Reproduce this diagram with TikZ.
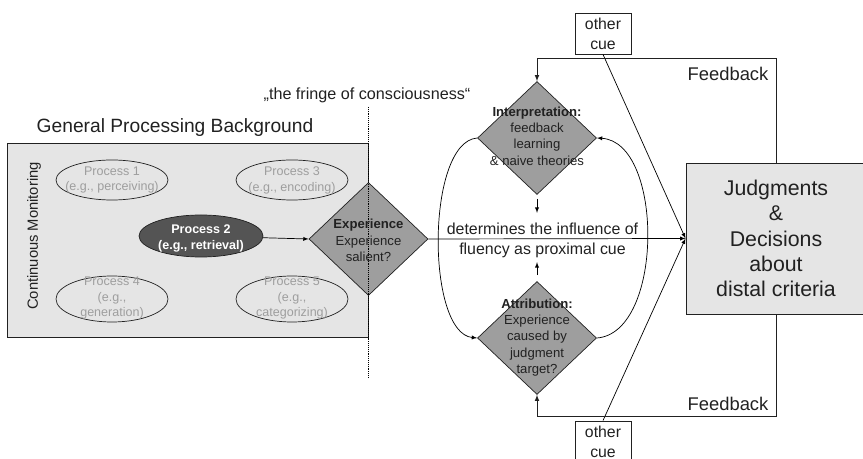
\documentclass[tikz,border=0pt]{standalone}
\usepackage{fontspec}
\setmainfont{Liberation Sans}
\usetikzlibrary{shapes.geometric}

\definecolor{ink}{gray}{0.13}
\definecolor{bggray}{gray}{0.9}
\definecolor{diagray}{gray}{0.62}
\definecolor{procdark}{gray}{0.33}
\definecolor{proctext}{gray}{0.62}

\begin{document}
\begin{tikzpicture}[
  x=0.03cm, y=-0.03cm,
  every node/.style={text=ink},
  proc/.style={ellipse, draw=ink, line width=0.6pt, inner sep=0pt, minimum width=3.36cm},
  proctxt/.style={align=center, inner sep=0pt, text=proctext, font=\fontsize{10.7}{13.6}\selectfont},
  decision/.style={diamond, draw=ink, fill=diagray, line width=0.6pt, inner sep=0pt,
    minimum width=3.57cm, minimum height=3.39cm},
  dectxt/.style={align=center, inner sep=0pt, font=\fontsize{11.2}{13.9}\selectfont},
  cuebox/.style={draw=ink, line width=0.7pt, minimum width=1.68cm, minimum height=1.23cm,
    align=center, inner sep=0pt, font=\fontsize{13.5}{17}\selectfont},
  fb/.style={inner sep=0pt, font=\fontsize{15.7}{18}\selectfont}
]
  \useasboundingbox (0,0) rectangle (863,459);
  \clip (0,0) rectangle (863,459);

  \draw node[draw=ink, fill=bggray, line width=0.8pt, minimum width=10.83cm,
    minimum height=5.82cm] (bg) at (187.5,240) {};
  \node[inner sep=0pt, font=\fontsize{16.4}{18}\selectfont] (title) at (175,128)
    {General Processing Background};
  \node[rotate=90, inner sep=0pt, font=\fontsize{12.6}{14}\selectfont] (monit) at (34,236)
    {Continuous Monitoring};

  \draw node[proc, minimum height=1.2cm] (p1) at (112,180) {};
  \draw node[proc, minimum height=1.2cm] (p3) at (292,180) {};
  \draw node[proc, minimum height=1.38cm] (p4) at (112,299) {};
  \draw node[proc, minimum height=1.38cm] (p5) at (292,299) {};
  \draw node[proc, fill=procdark, minimum width=3.72cm, minimum height=1.26cm] (p2) at (201,236) {};

  \node[proctxt] (p1t) at (p1) {Process 1\\(e.g., perceiving)};
  \node[proctxt] (p3t) at (p3) {Process 3\\(e.g., encoding)};
  \node[proctxt] (p4t) at (112,298) {Process 4\\(e.g.,\\generation)};
  \node[proctxt] (p5t) at (292,298) {Process 5\\(e.g.,\\categorizing)};
  \node[proctxt, text=white, font=\fontsize{10.7}{13.6}\selectfont\bfseries] (p2t) at (201,238.5)
    {Process 2\\(e.g., retrieval)};

  \draw node[decision] (exp) at (368.5,239) {};
  \draw node[decision] (interp) at (537,138) {};
  \draw node[decision] (attrib) at (537,338) {};

  \draw[densely dotted, line width=0.6pt] (368,107) -- (368,378);
  \node[inner sep=0pt, font=\fontsize{13.8}{16}\selectfont] (fringe) at (367,95)
    {„the fringe of consciousness“};

  \node[dectxt] (expt) at (368.5,240.5) {\textbf{Experience}\\Experience\\salient?};
  \node[dectxt] (interpt) at (537,136) {\textbf{Interpretation:}\\feedback\\learning\\\& naive theories};
  \node[dectxt] (attribt) at (537,337.5) {\textbf{Attribution:}\\Experience\\caused by\\judgment\\target?};

  \draw node[draw=ink, fill=bggray, line width=0.8pt, minimum width=5.4cm, minimum height=4.53cm,
    align=center, font=\fontsize{18.2}{21.55}\selectfont] (judg) at (776,238.5)
    {Judgments\\\&\\Decisions\\about\\distal criteria};

  \node[inner sep=0pt, align=center, font=\fontsize{13.6}{17}\selectfont] (infl) at (542.5,240)
    {determines the influence of\\fluency as proximal cue};

  \draw node[cuebox] (cue1) at (603,33.5) {other\\cue};
  \draw node[cuebox] (cue2) at (603,441.5) {other\\cue};

  \node[fb] (fb1) at (728,74) {Feedback};
  \node[fb] (fb2) at (728,404) {Feedback};

  \draw[-latex, line width=0.6pt] (p2) -- (exp.west);
  \draw[-latex, line width=0.6pt] (exp.east) -- (judg.west);
  \draw[-latex, line width=0.6pt] (cue1.south) -- (judg.west);
  \draw[-latex, line width=0.6pt] (cue2.north) -- (judg.west);

  \draw[-latex, line width=0.8pt, draw=ink] (judg.north) -- ++(0,-104) -| (interp.north);
  \draw[-latex, line width=0.8pt, draw=ink] (judg.south) -- ++(0,102) -| (attrib.south);

  \draw[-latex, line width=0.6pt] (interp.west) .. controls (426,142) and (426,333) .. (attrib.west);
  \draw[-latex, line width=0.6pt] (attrib.east) .. controls (664,333) and (664,142) .. (interp.east);

  \draw[-latex, line width=0.6pt] (interp.south) ++(0,4) -- ++(0,14);
  \draw[-latex, line width=0.6pt] (attrib.north) ++(0,-6) -- ++(0,-13);
\end{tikzpicture}
\end{document}
